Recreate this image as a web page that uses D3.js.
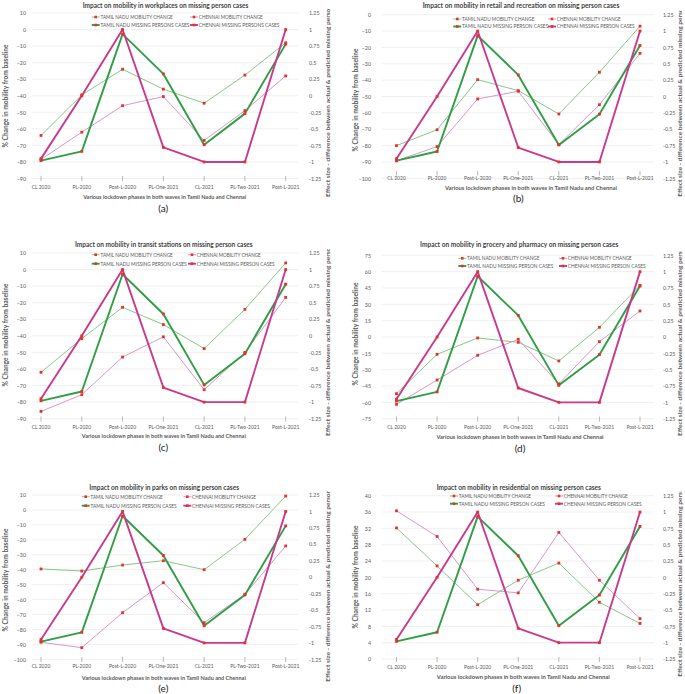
<!DOCTYPE html>
<html><head><meta charset="utf-8">
<script src="https://cdn.jsdelivr.net/npm/d3@7"></script>
<style>
body{margin:0;background:#fff}
svg{display:block}
text{font-family:Lato,"Open Sans","DejaVu Sans",sans-serif}
</style>
</head><body>
<svg id="chart" width="685" height="694"></svg>
<script>
// ---------- DATA ----------
const categories = ["CL 2020","PL-2020","Post-L-2020","PL-One-2021","CL-2021","PL-Two-2021","Post-L-2021"];
const seriesNamesA = ["TAMIL NADU MOBILITY CHANGE","CHENNAI MOBILITY CHANGE","TAMIL NADU MISSING PERSONS CASES","CHENNAI MISSING PERSONS CASES"];
const seriesNames  = ["TAMIL NADU MOBILITY CHANGE","CHENNAI MOBILITY CHANGE","TAMIL NADU MISSING PERSON CASES","CHENNAI MISSING PERSON CASES"];

// effect size (secondary axis), same in every panel
const tnMissing = [-0.98, -0.84, 0.93, 0.33, -0.74, -0.27, 0.78];
const chMissing = [-0.95, 0, 1, -0.78, -1, -1, 1];

// % change in mobility (primary axis)
const tnWork    = [-64, -39.5, -24, -36, -44.5, -27.5, -8];
const chWork    = [-78.5, -62, -46, -40.5, -67, -49, -28];
const tnRetail  = [-80, -70.3, -39.7, -46.4, -60.7, -35.2, -7];
const chRetail  = [-89.3, -80.6, -51.5, -46.8, -79.4, -55, -23.6];
const tnTransit = [-62, -41.7, -22.8, -33.2, -47.7, -24, 4];
const chTransit = [-85.6, -75.5, -52.8, -40.6, -72.5, -50, -16.8];
const tnGrocery = [-52, -15.9, -0.9, -4.9, -22, 8.9, 47.4];
const chGrocery = [-61.8, -39.5, -16.8, -2.1, -43, -4.3, 23.9];
const tnParks   = [-39.5, -40.9, -36.9, -34, -40, -19.7, 9.3];
const chParks   = [-88.6, -92.2, -68.8, -48.7, -75.5, -56.5, -24.1];
const tnRes     = [32.1, 22.8, 13.3, 19.3, 23.5, 13.9, 8.7];
const chRes     = [36.3, 30, 17.1, 16.2, 31, 19.3, 9.9];

// tick labels
const ticksWork    = [10,0,-10,-20,-30,-40,-50,-60,-70,-80,-90];
const ticksRetail  = [0,-10,-20,-30,-40,-50,-60,-70,-80,-90,-100];
const ticksTransit = [10,0,-10,-20,-30,-40,-50,-60,-70,-80,-90];
const ticksGrocery = [75,60,45,30,15,0,-15,-30,-45,-60,-75];
const ticksParks   = [10,0,-10,-20,-30,-40,-50,-60,-70,-80,-90,-100];
const ticksRes     = [40,36,32,28,24,20,16,12,8,4,0];
const ticksEffect  = [1.25,1,0.75,0.5,0.25,0,-0.25,-0.5,-0.75,-1,-1.25];

const titles = [
  "Impact on mobility in workplaces on missing person cases",
  "Impact on mobility in retail and recreation on missing person cases",
  "Impact on mobility in transit stations on missing person cases",
  "Impact on mobility in grocery and pharmacy on missing person cases",
  "Impact on mobility in parks on missing person cases",
  "Impact on mobility in residential on missing person cases"
];
const letters = ["(a)","(b)","(c)","(d)","(e)","(f)"];
const xTitle = "Various lockdown phases in both waves in Tamil Nadu and Chennai";
const yTitleLeft = "% Change in mobility from baseline";
const yTitleRight = "Effect size - difference between actual & predicted missing person";

// ---------- STYLE / LAYOUT ----------
const colTN = "#78c27a", colCH = "#d48cc4", colTNm = "#2f9e44", colCHm = "#c83a8e", colMk = "#e8302a";
const txt = "#595959";

const L = {gx0:32, gx1:298, px0:41, px1:285.7, lab:26, rlab:309, ltx:6, rtx:328};
const R = {gx0:382, gx1:654, px0:396.5, px1:640, lab:371, rlab:663, ltx:356, rtx:680};

const panels = [
  {c:L, top:13,   bot:178.5, tY:5.7,   tX:165.5, tW:165.7, leg:[17,25],     legX:[91.7,190],  tick:[176,181], catY:187.3, xtY:196.7, xtX:164.7, xtW:163, letY:208,   letX:163.3, ltY:96,  rtB:197,   clip:[0,215],
   tn:tnWork, ch:chWork, ticks:ticksWork, names:seriesNamesA},
  {c:R, top:14.7, bot:178.3, tY:5,     tX:521,   tW:196.7, leg:[19,26.5],   legX:[453.3,548], tick:[171,175.5], catY:178.5, xtY:187.7, xtX:531, xtW:172, letY:198.3, letX:518.3, ltY:100, rtB:196.7, clip:[0,215],
   tn:tnRetail, ch:chRetail, ticks:ticksRetail, names:seriesNames},
  {c:L, top:253,  bot:418.7, tY:244.7, tX:163.8, tW:177.7, leg:[254.7,263.7], legX:[91.7,188], tick:[416.5,421.5], catY:427, xtY:436.3, xtX:163.8, xtW:164, letY:447.3, letX:163.3, ltY:335, rtB:436,   clip:[238,455],
   tn:tnTransit, ch:chTransit, ticks:ticksTransit, names:seriesNames},
  {c:R, top:255.3,bot:418.7, tY:244.7, tX:519.2, tW:198.3, leg:[258.3,266],   legX:[458.3,559], tick:[416.5,421.5], catY:427, xtY:437, xtX:520, xtW:167, letY:448, letX:520, ltY:334, rtB:436,   clip:[238,455],
   tn:tnGrocery, ch:chGrocery, ticks:ticksGrocery, names:seriesNames},
  {c:L, top:495,  bot:659.3, tY:487.3, tX:164.2, tW:149.7, leg:[496.7,505.7], legX:[81.7,183.3], tick:[657,662], catY:666.7, xtY:678.3, xtX:163.8, xtW:164, letY:688.3, letX:163.3, ltY:580, rtB:681.7, clip:[482,694],
   tn:tnParks, ch:chParks, ticks:ticksParks, names:seriesNames},
  {c:R, top:495.7,bot:659,   tY:487.3, tX:518.8, tW:164.3, leg:[496,503.7],   legX:[450,555],  tick:[657,662], catY:667.3, xtY:677.3, xtX:523.3, xtW:173, letY:688.3, letX:516.7, ltY:577, rtB:676.7, clip:[482,694],
   tn:tnRes, ch:chRes, ticks:ticksRes, names:seriesNames}
];

const svg = d3.select("#chart");
const defs = svg.append("defs");

function fit(sel, w){ sel.attr("textLength", w).attr("lengthAdjust","spacingAndGlyphs"); return sel; }

panels.forEach((p, i) => {
  const c = p.c;
  const g = svg.append("g");
  const ticks = p.ticks;
  const yL = d3.scaleLinear().domain([d3.min(ticks), d3.max(ticks)]).range([p.bot, p.top]);
  const yR = d3.scaleLinear().domain([d3.min(ticksEffect), d3.max(ticksEffect)]).range([p.bot, p.top]);
  const x = d3.scalePoint().domain(categories).range([c.px0, c.px1]);

  // gridlines
  g.append("g").selectAll("line").data(ticks).join("line")
    .attr("x1", c.gx0).attr("x2", c.gx1)
    .attr("y1", d => yL(d)).attr("y2", d => yL(d))
    .attr("stroke", "#e6e6e6").attr("stroke-width", 0.6);

  // left axis labels
  const axL = g.append("g").attr("transform", `translate(${c.lab},0)`)
    .call(d3.axisLeft(yL).tickValues(ticks).tickSize(0).tickPadding(0).tickFormat(d3.format("")));
  axL.select(".domain").remove();
  axL.selectAll("text").attr("fill", txt).attr("font-size", 5.3).attr("font-family", "Lato");

  // right axis labels
  const axR = g.append("g").attr("transform", `translate(${c.rlab},0)`)
    .call(d3.axisRight(yR).tickValues(ticksEffect).tickSize(0).tickPadding(0).tickFormat(d => String(d)));
  axR.select(".domain").remove();
  axR.selectAll("text").attr("fill", txt).attr("font-size", 5.3).attr("font-family", "Lato");

  // category ticks & labels
  g.append("g").selectAll("line").data(categories).join("line")
    .attr("x1", d => x(d)).attr("x2", d => x(d))
    .attr("y1", p.tick[0]).attr("y2", p.tick[1])
    .attr("stroke", "#8a8a8a").attr("stroke-width", 0.6);
  g.append("g").selectAll("text").data(categories).join("text")
    .attr("x", d => x(d)).attr("y", p.catY).attr("dy", "0.35em")
    .attr("text-anchor", "middle").attr("font-size", 5).attr("fill", txt)
    .text(d => d);

  // title
  fit(g.append("text").attr("x", p.tX).attr("y", p.tY).attr("dy","0.35em")
    .attr("text-anchor","middle").attr("font-size", 7.2).attr("font-weight", 700)
    .attr("fill", "#3f3f3f").text(titles[i]), p.tW);

  // x title
  fit(g.append("text").attr("x", p.xtX).attr("y", p.xtY).attr("dy","0.35em")
    .attr("text-anchor","middle").attr("font-size", 6).attr("font-weight", 700)
    .attr("fill", txt).text(xTitle), p.xtW);

  // panel letter
  g.append("text").attr("x", p.letX).attr("y", p.letY).attr("dy","0.35em")
    .attr("text-anchor","middle").attr("font-size", 10).attr("fill", "#222")
    .text(letters[i]);

  // left axis title
  fit(g.append("text").attr("transform", `translate(${c.ltx},${p.ltY}) rotate(-90)`)
    .attr("dy","0.35em").attr("text-anchor","middle").attr("font-size", 6.5).attr("font-weight", 700)
    .attr("fill", txt).text(yTitleLeft), 103);

  // right axis title (clipped at top)
  const cid = "clip" + i;
  defs.append("clipPath").attr("id", cid).append("rect")
    .attr("x", c.rtx - 8).attr("y", p.top - 4).attr("width", 16).attr("height", p.clip[1] - p.top + 4);
  fit(g.append("g").attr("clip-path", `url(#${cid})`).append("text")
    .attr("transform", `translate(${c.rtx},${p.rtB}) rotate(-90)`)
    .attr("dy","0.35em").attr("text-anchor","start").attr("font-size", 6.3).attr("font-weight", 700)
    .attr("fill", txt).text(yTitleRight), 192);

  // series
  const series = [
    {v:p.tn, y:yL, col:colTN, w:0.9},
    {v:p.ch, y:yL, col:colCH, w:0.9},
    {v:tnMissing, y:yR, col:colTNm, w:1.9},
    {v:chMissing, y:yR, col:colCHm, w:1.9}
  ];
  series.forEach(s => {
    const line = d3.line().x((d, k) => x(categories[k])).y(d => s.y(d));
    g.append("path").datum(s.v).attr("d", line)
      .attr("fill","none").attr("stroke", s.col).attr("stroke-width", s.w)
      .attr("stroke-linejoin","round");
  });
  series.forEach(s => {
    g.append("g").selectAll("rect").data(s.v).join("rect")
      .attr("x", (d, k) => x(categories[k]) - 1.4).attr("y", d => s.y(d) - 1.4)
      .attr("width", 2.8).attr("height", 2.8).attr("fill", colMk);
  });

  // legend
  const legendPos = [[0,0],[1,0],[0,1],[1,1]];
  series.forEach((s, k) => {
    const lx = p.legX[legendPos[k][0]], ly = p.leg[legendPos[k][1]];
    const lg = g.append("g");
    lg.append("line").attr("x1", lx).attr("x2", lx + 8).attr("y1", ly).attr("y2", ly)
      .attr("stroke", s.col).attr("stroke-width", s.w);
    lg.append("rect").attr("x", lx + 4 - 1.3).attr("y", ly - 1.3).attr("width", 2.6).attr("height", 2.6).attr("fill", colMk);
    fit(lg.append("text").attr("x", lx + 8.8).attr("y", ly).attr("dy","0.35em")
      .attr("font-size", 5.2).attr("fill", txt).text(p.names[k]), p.names[k].length * 2.78);
  });
});
</script>
</body></html>
